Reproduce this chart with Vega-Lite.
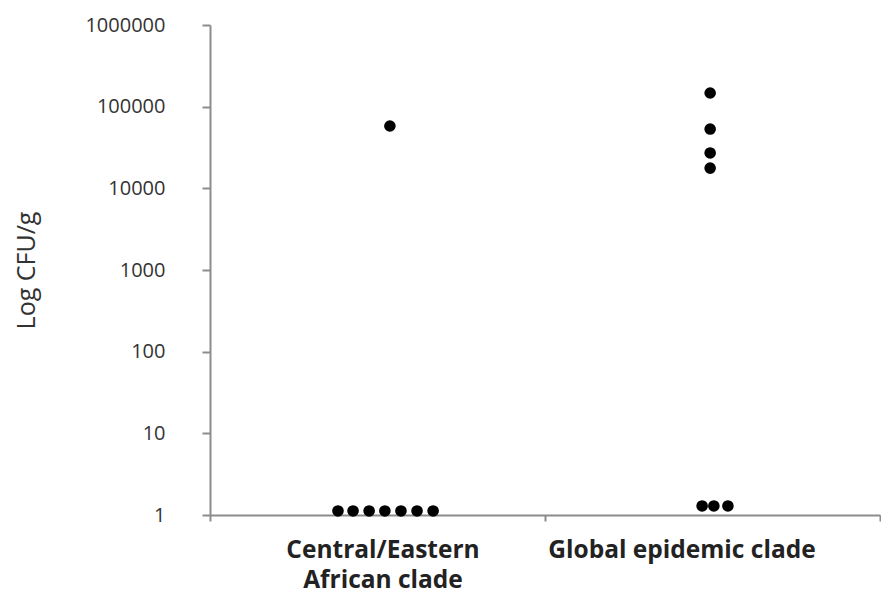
{
  "$schema": "https://vega.github.io/schema/vega-lite/v6.json",
  "autosize": "none",
  "width": 670,
  "height": 490,
  "padding": {"left": 210, "top": 25, "right": 1, "bottom": 81},
  "background": "white",
  "config": {"view": {"stroke": null}, "font": "Open Sans"},
  "data": {
    "values": [
      {"clade": "Central/Eastern African clade", "jitter": -0.118, "cfu": 1.12},
      {"clade": "Central/Eastern African clade", "jitter": -0.073, "cfu": 1.12},
      {"clade": "Central/Eastern African clade", "jitter": -0.025, "cfu": 1.12},
      {"clade": "Central/Eastern African clade", "jitter": 0.022, "cfu": 1.12},
      {"clade": "Central/Eastern African clade", "jitter": 0.070, "cfu": 1.12},
      {"clade": "Central/Eastern African clade", "jitter": 0.118, "cfu": 1.12},
      {"clade": "Central/Eastern African clade", "jitter": 0.166, "cfu": 1.12},
      {"clade": "Central/Eastern African clade", "jitter": 0.037, "cfu": 58000},
      {"clade": "Global epidemic clade", "jitter": -0.031, "cfu": 1.29},
      {"clade": "Global epidemic clade", "jitter": 0.004, "cfu": 1.29},
      {"clade": "Global epidemic clade", "jitter": 0.046, "cfu": 1.29},
      {"clade": "Global epidemic clade", "jitter": -0.007, "cfu": 147000},
      {"clade": "Global epidemic clade", "jitter": -0.007, "cfu": 53200},
      {"clade": "Global epidemic clade", "jitter": -0.007, "cfu": 27100},
      {"clade": "Global epidemic clade", "jitter": -0.007, "cfu": 17700}
    ]
  },
  "mark": {"type": "circle", "size": 135, "color": "black", "opacity": 1},
  "encoding": {
    "x": {
      "field": "clade",
      "type": "nominal",
      "sort": null,
      "scale": {"paddingInner": 0, "paddingOuter": 0},
      "axis": {
        "title": null,
        "labelAngle": 0,
        "tickBand": "extent",
        "domainColor": "#8c8c8c",
        "domainWidth": 2,
        "tickColor": "#8c8c8c",
        "tickWidth": 2,
        "tickSize": 6,
        "labelFont": "Open Sans",
        "labelFontSize": 24.5,
        "labelFontWeight": "bold",
        "labelColor": "#222222",
        "labelPadding": 17,
        "labelLineHeight": 30,
        "labelLimit": 500,
        "labelOverlap": false,
        "labelOffset": {"condition": {"test": "datum.value == 'Global epidemic clade'", "value": -31}, "value": 5},
        "labelExpr": "datum.value == 'Central/Eastern African clade' ? ['Central/Eastern', 'African clade'] : datum.value"
      }
    },
    "xOffset": {
      "field": "jitter",
      "type": "quantitative",
      "scale": {"domain": [-0.5, 0.5], "range": [0, 335]}
    },
    "y": {
      "field": "cfu",
      "type": "quantitative",
      "scale": {"type": "log", "domain": [1, 1000000], "nice": false},
      "axis": {
        "title": "Log CFU/g",
        "titleFont": "Open Sans",
        "titleFontSize": 25,
        "titleFontWeight": "normal",
        "titleColor": "#333333",
        "titleX": -184,
        "titleY": 245,
        "titleAngle": -90,
        "titleAlign": "center",
        "titleBaseline": "middle",
        "values": [1, 10, 100, 1000, 10000, 100000, 1000000],
        "format": "d",
        "grid": false,
        "domainColor": "#8c8c8c",
        "domainWidth": 2,
        "tickColor": "#8c8c8c",
        "tickWidth": 2,
        "tickSize": 8,
        "labelFont": "Open Sans",
        "labelFontSize": 20,
        "labelColor": "#333333",
        "labelPadding": 37
      }
    }
  }
}
